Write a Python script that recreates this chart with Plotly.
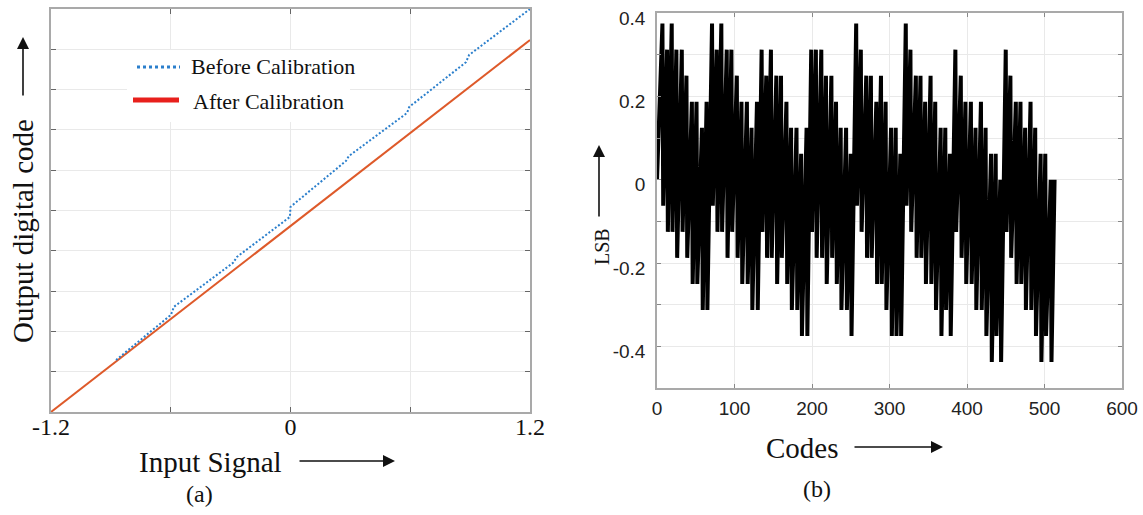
import plotly.graph_objects as go

# ---------------- (a) ADC transfer characteristic ----------------
input_before = [-0.874, -0.599, -0.584, -0.288, -0.268, -0.003, 0.0, 0.278, 0.292,
                0.584, 0.595, 0.879, 0.895, 1.2]
code_before = [1.29, 2.41, 2.61, 3.70, 3.85, 4.84, 5.09, 6.23, 6.35,
               7.42, 7.57, 8.68, 8.86, 10.0]
input_after = [-1.2, 1.2]
code_after = [0.0, 9.23]

x_tick_vals = [-1.2, -0.6, 0, 0.6, 1.2]
x_tick_text = ["-1.2", "", "0", "", "1.2"]

# ---------------- (b) error per output code (LSB) ----------------
start_code, start_lsb = 0, 0.0
end_code, end_lsb = 513, 0.0
peak_codes = [7, 13, 19, 25, 32, 38, 45, 51, 58, 64,
              71, 77, 83, 90, 96, 103, 109, 116, 122, 129,
              135, 141, 147, 154, 160, 167, 173, 180, 186, 193,
              199, 205, 212, 218, 225, 231, 237, 244, 250,
              257, 263, 270, 276, 283, 289, 295, 302, 308, 314,
              321, 327, 334, 340, 346, 353, 359, 366, 372, 378,
              385, 392, 398, 405, 411, 418, 424, 431, 437, 443,
              450, 456, 463, 469, 475, 482, 488, 495, 501, 508]
peak_lsb = [0.375, 0.3125, 0.375, 0.3125, 0.3125, 0.25, 0.1875, 0.1875, 0.125, 0.1875,
            0.375, 0.3125, 0.375, 0.3125, 0.3125, 0.25, 0.1875, 0.1875, 0.125, 0.1875,
            0.3125, 0.25, 0.3125, 0.25, 0.25, 0.1875, 0.125, 0.125, 0.0625, 0.125,
            0.3125, 0.3125, 0.3125, 0.25, 0.25, 0.1875, 0.125, 0.125, 0.0625,
            0.375, 0.3125, 0.25, 0.25, 0.1875, 0.25, 0.1875, 0.125, 0.125, 0.0625,
            0.375, 0.3125, 0.25, 0.25, 0.1875, 0.25, 0.1875, 0.125, 0.125, 0.0625,
            0.3125, 0.25, 0.1875, 0.1875, 0.125, 0.1875, 0.125, 0.0625, 0.0625, 0.0,
            0.3125, 0.25, 0.1875, 0.1875, 0.125, 0.1875, 0.125, 0.0625, 0.0625, 0.0]
valley_lsb = [-0.0625, -0.125, -0.125, -0.1875, -0.125, -0.1875, -0.25, -0.25, -0.3125, -0.3125,
              -0.0625, -0.125, -0.125, -0.1875, -0.125, -0.1875, -0.25, -0.25, -0.3125, -0.3125,
              -0.125, -0.1875, -0.1875, -0.25, -0.1875, -0.25, -0.3125, -0.3125, -0.375, -0.375,
              -0.125, -0.1875, -0.1875, -0.25, -0.1875, -0.25, -0.3125, -0.3125, -0.375,
              -0.0625, -0.125, -0.1875, -0.1875, -0.25, -0.25, -0.3125, -0.375, -0.375, -0.375,
              -0.0625, -0.125, -0.1875, -0.1875, -0.25, -0.25, -0.3125, -0.375, -0.3125, -0.375,
              -0.125, -0.1875, -0.25, -0.25, -0.3125, -0.3125, -0.375, -0.4375, -0.375, -0.4375,
              -0.125, -0.1875, -0.25, -0.25, -0.3125, -0.3125, -0.375, -0.4375, -0.375, -0.4375]

# each peak is followed by its valley on the next code
err_codes = [start_code]
err_lsb = [start_lsb]
for c, hi, lo in zip(peak_codes, peak_lsb, valley_lsb):
    err_codes += [c, c + 1]
    err_lsb += [hi, lo]
err_codes.append(end_code)
err_lsb.append(end_lsb)

W, H = 1143, 515
SERIF = "Liberation Serif, Times New Roman, serif"
SANS = "Liberation Sans, Arial, sans-serif"


def px(x):
    return x / W


def py(y):
    return 1 - y / H


fig = go.Figure()

fig.add_trace(go.Scatter(x=input_after, y=code_after, mode="lines",
                         line=dict(color="#de5a2a", width=2),
                         xaxis="x", yaxis="y", showlegend=False))
fig.add_trace(go.Scatter(x=input_before, y=code_before, mode="lines",
                         line=dict(color="#2b7fcc", width=2, dash="2px,2px"),
                         xaxis="x", yaxis="y", showlegend=False))
fig.add_trace(go.Scatter(x=err_codes, y=err_lsb, mode="lines",
                         line=dict(color="#000000", width=4),
                         xaxis="x2", yaxis="y2", showlegend=False))

frame = "#a9a9a9"
grid = "#e9e9e9"

fig.update_layout(
    width=W, height=H,
    margin=dict(l=0, r=0, t=0, b=0, autoexpand=False),
    paper_bgcolor="white", plot_bgcolor="white",
    xaxis=dict(domain=[px(51), px(530)], range=[-1.2, 1.2],
               tickmode="array", tickvals=x_tick_vals, ticktext=x_tick_text,
               showgrid=True, gridcolor=grid, zeroline=False,
               showline=True, linecolor=frame, linewidth=1.5, mirror="ticks",
               ticks="inside", ticklen=5, tickcolor="#666",
               tickfont=dict(family=SERIF, size=24, color="#111"),
               ticklabelstandoff=-8, automargin=False,
               anchor="y"),
    yaxis=dict(domain=[py(412), py(9)], range=[0, 10], dtick=1,
               showticklabels=False,
               showgrid=True, gridcolor=grid, zeroline=False,
               showline=True, linecolor=frame, linewidth=1.5, mirror="ticks",
               ticks="inside", ticklen=5, tickcolor="#666",
               automargin=False, anchor="x"),
    xaxis2=dict(domain=[px(657), px(1122)], range=[0, 600], dtick=100,
                showgrid=True, gridcolor=grid, zeroline=False,
                showline=True, linecolor=frame, linewidth=1.5, mirror="ticks",
                ticks="inside", ticklen=4, tickcolor="#888",
                tickfont=dict(family=SANS, size=19, color="#222"),
                ticklabelstandoff=2, automargin=False,
                anchor="y2"),
    yaxis2=dict(domain=[py(388), py(13)], range=[-0.5, 0.4005],
                tickmode="array", tickvals=[-0.4, -0.2, 0, 0.2, 0.4],
                ticktext=["-0.4", "-0.2", "0", "0.2", "0.4"],
                minor=dict(dtick=0.1, showgrid=True, gridcolor=grid,
                           ticks="inside", ticklen=4, tickcolor="#888"),
                showgrid=True, gridcolor=grid, zeroline=False,
                showline=True, linecolor=frame, linewidth=1.5, mirror="ticks",
                ticks="inside", ticklen=4, tickcolor="#888",
                tickfont=dict(family=SANS, size=19, color="#222"),
                ticklabelshift=5, ticklabelstandoff=6, automargin=False,
                anchor="x2"),
)

# legend of panel (a)
fig.add_shape(type="rect", xref="paper", yref="paper",
              x0=px(127), x1=px(350), y0=py(122), y1=py(50),
              fillcolor="white", line=dict(width=0), layer="above")
fig.add_shape(type="line", xref="paper", yref="paper",
              x0=px(137), x1=px(180), y0=py(67), y1=py(67),
              line=dict(color="#2b7fcc", width=3, dash="3px,3px"))
fig.add_shape(type="line", xref="paper", yref="paper",
              x0=px(133), x1=px(179), y0=py(100), y1=py(100),
              line=dict(color="#e8201c", width=5))

labels = [
    dict(text="Before Calibration", x=189, y=66, xanchor="left", size=22),
    dict(text="After Calibration", x=191, y=102, xanchor="left", size=22),
    dict(text="Output digital code", x=23, y=231, xanchor="center", size=29, angle=-90),
    dict(text="Input Signal", x=210, y=462, xanchor="center", size=29),
    dict(text="(a)", x=199, y=494, xanchor="center", size=24),
    dict(text="LSB", x=602, y=247, xanchor="center", size=20, angle=-90),
    dict(text="Codes", x=802, y=448, xanchor="center", size=29),
    dict(text="(b)", x=817, y=489, xanchor="center", size=24),
]
for lab in labels:
    fig.add_annotation(text=lab["text"], x=px(lab["x"]), y=py(lab["y"]),
                       xref="paper", yref="paper", showarrow=False,
                       xanchor=lab["xanchor"], yanchor="middle",
                       textangle=lab.get("angle", 0),
                       font=dict(family=SERIF, size=lab["size"], color="#111"))

# direction arrows next to the axis titles: (head x, head y, tail dx, tail dy)
arrows = [(23, 37, 0, 60), (395, 461, -97, 0), (599, 145, 0, 73), (943, 447, -90, 0)]
for hx, hy, dx, dy in arrows:
    fig.add_annotation(text="", x=px(hx), y=py(hy), xref="paper", yref="paper",
                       showarrow=True, ax=dx, ay=dy, axref="pixel", ayref="pixel",
                       arrowhead=2, arrowsize=1.5, arrowwidth=1.6, arrowcolor="#111")

fig.write_html("out.html")
